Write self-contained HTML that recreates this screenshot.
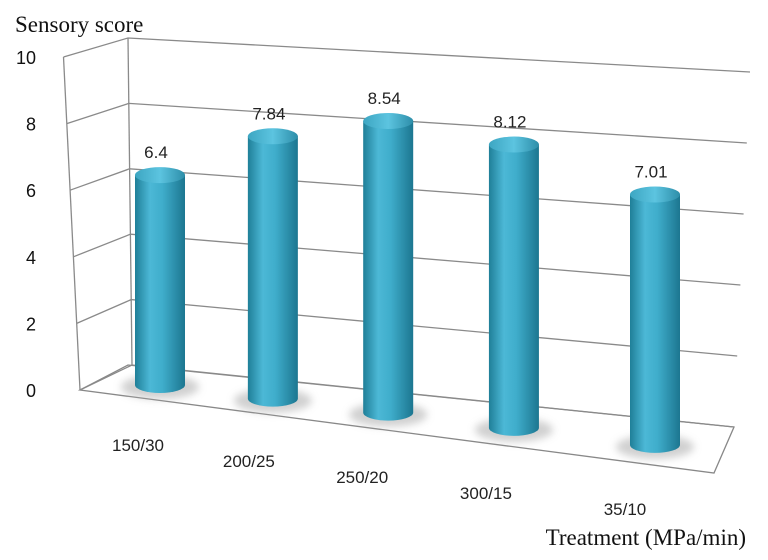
<!DOCTYPE html>
<html><head><meta charset="utf-8"><style>
html,body{margin:0;padding:0;background:#fff;}
svg{display:block;}
</style></head><body>
<svg id="chart" width="768" height="560" viewBox="0 0 768 560">
<defs>
<linearGradient id="cyl" x1="0" x2="1" y1="0" y2="0">
<stop offset="0" stop-color="#1f7f98"/>
<stop offset="0.3" stop-color="#4cb8d6"/>
<stop offset="0.55" stop-color="#3fadcb"/>
<stop offset="1" stop-color="#1c7690"/>
</linearGradient>
<linearGradient id="cap" x1="0" x2="1">
<stop offset="0" stop-color="#3da6c2"/>
<stop offset="0.5" stop-color="#5cc4e0"/>
<stop offset="1" stop-color="#2d8ea9"/>
</linearGradient>
<filter id="blur" x="-50%" y="-50%" width="200%" height="200%"><feGaussianBlur stdDeviation="4"/></filter>
</defs>
<g id="grid"></g>
<g id="bars"></g>
<g id="labels"></g>
<text x="15" y="32" font-family="Liberation Serif, serif" font-size="23" fill="#111">Sensory score</text>
<text x="746" y="545" text-anchor="end" font-family="Liberation Serif, serif" font-size="23" fill="#111">Treatment (MPa/min)</text>
</svg>
<script>
const categories = ["150/30","200/25","250/20","300/15","35/10"];
const values = [6.4, 7.84, 8.54, 8.12, 7.01];
const valueLabels = ["6.4","7.84","8.54","8.12","7.01"];
const ticks = [0,2,4,6,8,10];
const tickLabels = ["0","2","4","6","8","10"];

const NS = "http://www.w3.org/2000/svg";
function mk(tag, attrs, parent){const e=document.createElementNS(NS,tag);for(const k in attrs)e.setAttribute(k,attrs[k]);parent.appendChild(e);return e;}
const grid=document.getElementById('grid'), bars=document.getElementById('bars'), labels=document.getElementById('labels');
const vmax=10;
function frontL(v){return [80-v*1.65, 390-v*33.3];}
function backL(v){return [128+(1-v/vmax)*4, 365-v*32.7];}
function backR(v){return [734+v*1.6, 427-v*35.5];}
const fl=mk('polygon',{points:"80,390 128,365 734,427 714,473",fill:"none",stroke:"#888","stroke-width":1.3},grid);


ticks.forEach((t,i)=>{
  const a=frontL(t),b=backL(t),c=backR(t);
  const p=mk('polyline',{points:`${a[0]},${a[1]} ${b[0]},${b[1]} ${c[0]},${c[1]}`,fill:"none",stroke:"#8a8a8a","stroke-width":1.3},grid);
  
  
  const tx=mk('text',{x:36,y:a[1]+7,"text-anchor":"end","font-family":"Liberation Sans, sans-serif","font-size":18,fill:"#111"},labels);
  tx.textContent=tickLabels[i];
  
  
});
{const a=frontL(0),b=frontL(vmax);mk('line',{x1:a[0],y1:a[1],x2:b[0],y2:b[1],stroke:"#8a8a8a","stroke-width":1.3},grid);
 const c=backL(0),d=backL(vmax);mk('line',{x1:c[0],y1:c[1],x2:d[0],y2:d[1],stroke:"#8a8a8a","stroke-width":1.3},grid);}
const x0=160, x1=655;
const frac=[0,0.228,0.461,0.715,1];
function baseY(x){return 385+0.121*(x-160);}
function scale(x){return 32.8+(x-160)*0.0059;}
const bw=50, ry=8;
categories.forEach((c,i)=>{
  const cx=x0+(x1-x0)*frac[i];
  const by=baseY(cx), ty=by-values[i]*scale(cx);
  const g=mk('g',{},bars);
  
  
  mk('ellipse',{cx:cx,cy:by+2,rx:bw/2+14,ry:ry+4,fill:"#aaa",opacity:0.55,filter:"url(#blur)"},g);
  mk('path',{d:`M${cx-bw/2},${ty} L${cx-bw/2},${by} A${bw/2},${ry} 0 0 0 ${cx+bw/2},${by} L${cx+bw/2},${ty} Z`,fill:"url(#cyl)"},g);
  mk('ellipse',{cx:cx,cy:ty,rx:bw/2,ry:ry,fill:"url(#cap)"},g);
  const vt=mk('text',{x:cx-4,y:ty-17,"text-anchor":"middle","font-family":"Liberation Sans, sans-serif","font-size":17,fill:"#222"},labels);
  vt.textContent=valueLabels[i];
  
  
  const ct=mk('text',{x:cx-22-i*2,y:451+i*16,"text-anchor":"middle","font-family":"Liberation Sans, sans-serif","font-size":17,fill:"#222"},labels);
  ct.textContent=c;
  
  
});
</script>
</body></html>
